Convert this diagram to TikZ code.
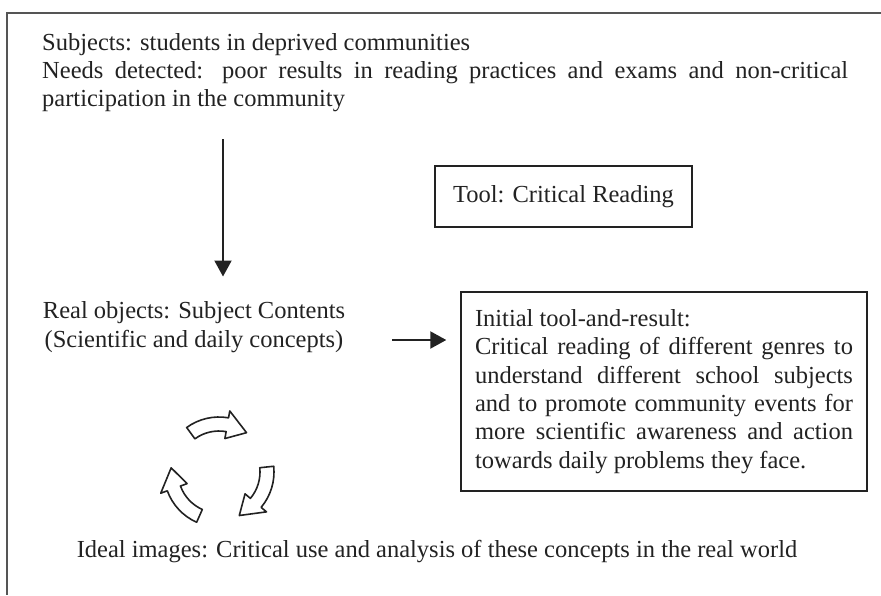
\documentclass[tikz,border=0pt]{standalone}
\usepackage{fontspec}
\setmainfont{Liberation Serif}
\usetikzlibrary{arrows.meta,positioning}
\definecolor{ink}{HTML}{222222}
\definecolor{rulegray}{HTML}{555555}
\tikzset{
  txt/.style={inner sep=0pt, text=ink, font=\fontsize{24.5}{28.3}\selectfont},
  frameline/.style={draw=rulegray, line width=1.6pt},
  boxed/.style={draw=ink, line width=1.4pt},
  flow/.style={draw=ink, line width=2pt, -{Triangle[length=16pt,width=17pt]}},
  cyc/.style={draw=ink, line width=1.6pt, line join=round, fill=white},
}
\begin{document}
\begin{tikzpicture}[x=1pt, y=-1pt]
        \useasboundingbox (0,0) rectangle (881,595);
        \draw[frameline] (881,13) -- (7,13) -- (7,595);

        \node[txt, anchor=north west, text width=806pt, align=justify] (needs) at (42,33)
          {Subjects: students in deprived communities\\
           Needs detected: poor results in reading practices and exams and non-critical\linebreak
           participation in the community};
        \node[txt, boxed, minimum width=257pt, minimum height=61pt] (tool) at (563.5,196.5)
          {Tool: Critical Reading};
        \node[txt, align=center] (real) at (194,327)
          {Real objects: Subject Contents\\(Scientific and daily concepts)};
        \node[txt, boxed, minimum width=406pt, minimum height=199pt, text width=378pt, align=justify] (init) at (664,391.5)
          {Initial tool-and-result:\\
           Critical reading of different genres to\linebreak
           understand different school subjects\linebreak
           and to promote community events for\linebreak
           more scientific awareness and action\linebreak
           towards daily problems they face.};
        \node[txt] (ideal) at (437,552)
          {Ideal images: Critical use and analysis of these concepts in the real world};

        \coordinate (downx) at (223,0);
        \coordinate (rowy) at (0,340);
        \draw[flow, shorten <=27pt, shorten >=25pt] (needs.south -| downx) -- (real.north -| downx);
        \draw[flow, shorten <=47pt, shorten >=14pt] (real.east |- rowy) -- (init.west |- rowy);

        % cycle of three curved arrows
        \begin{scope}[shift={(219,472)}, yscale=-1]
          \foreach \rot in {0,-120,-240}
            \draw[cyc, rotate=\rot] (126:41) arc[start angle=126, end angle=80, radius=41]
              -- (80:34) -- (55:48) -- (80:62) -- (80:55)
              arc[start angle=80, end angle=126, radius=55] -- cycle;
        \end{scope}
\end{tikzpicture}
\end{document}
